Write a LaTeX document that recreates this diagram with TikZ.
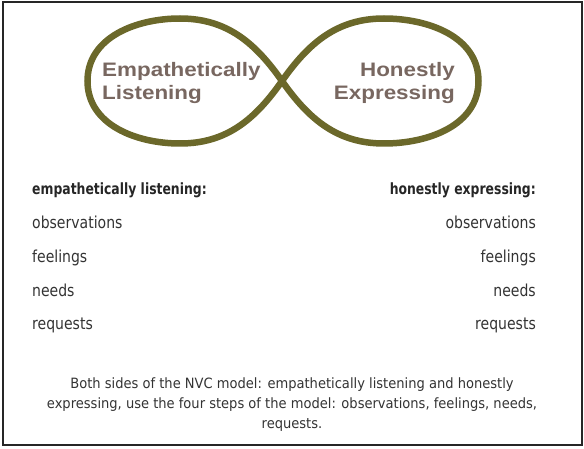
\documentclass[tikz,border=0pt]{standalone}
\usepackage{fontspec}
\usetikzlibrary{positioning}
\newfontfamily\loopfont[FakeStretch=1.15]{Liberation Sans}
\newfontfamily\listfont[FakeStretch=0.85]{DejaVu Sans}
\newfontfamily\headfont[FakeStretch=0.8]{DejaVu Sans}
\newfontfamily\captfont[FakeStretch=0.92]{DejaVu Sans}
\definecolor{loopc}{RGB}{107,104,42}
\definecolor{lblc}{RGB}{120,103,96}
\definecolor{txtc}{RGB}{51,51,51}
\tikzset{
    lbl/.style={font=\loopfont\bfseries\fontsize{19.5}{23}\selectfont, text=lblc, inner sep=0pt},
    item/.style={font=\listfont\fontsize{16.5}{18}\selectfont, text=txtc, inner sep=0pt, text height=11pt, text depth=3pt},
    head/.style={item, font=\headfont\bfseries\fontsize{15.5}{18}\selectfont, text=black!85},
    capt/.style={font=\captfont\fontsize{14.2}{20}\selectfont, text=txtc, inner sep=0pt, align=center}
}

\begin{document}
\begin{tikzpicture}[x=1pt, y=1pt]
                \useasboundingbox (0,0) rectangle (584,448);
                \draw [line width=1.3pt, black!85] (3,3) rectangle (582,446);

                \coordinate (c) at (282,367);
                \coordinate (lt) at (180,429.5);
                \coordinate (lw) at (87.5,367);
                \coordinate (lb) at (180,304.5);
                \coordinate (rt) at (384,429.5);
                \coordinate (re) at (478.5,367);
                \coordinate (rb) at (384,304.5);
                \draw [loopc, line width=6.5pt]
                    (c) to [out=125, in=0] (lt) to [out=180, in=90] (lw) to [out=270, in=180] (lb) to [out=0, in=235] (c)
                        to [out=55, in=180] (rt) to [out=0, in=90] (re) to [out=270, in=0] (rb) to [out=180, in=305] cycle;

                \node [lbl, anchor=base west] (e1) at (102,371) {Empathetically};
                \node [lbl, anchor=base west] (e2) at ([yshift=-23pt] e1.base west) {Listening};
                \node [lbl, anchor=base east] (h1) at (455,371) {Honestly};
                \node [lbl, anchor=base east] (h2) at ([yshift=-23pt] h1.base east) {Expressing};

                \node [head, anchor=base west] (l0) at (32,253) {empathetically listening:};
                \node [item, below=19.3pt of l0.south west, anchor=north west] (l1) {observations};
                \node [item, below=19.3pt of l1.south west, anchor=north west] (l2) {feelings};
                \node [item, below=19.3pt of l2.south west, anchor=north west] (l3) {needs};
                \node [item, below=19.3pt of l3.south west, anchor=north west] (l4) {requests};

                \node [head, anchor=base east] (r0) at (536,253) {honestly expressing:};
                \node [item, below=19.3pt of r0.south east, anchor=north east] (r1) {observations};
                \node [item, below=19.3pt of r1.south east, anchor=north east] (r2) {feelings};
                \node [item, below=19.3pt of r2.south east, anchor=north east] (r3) {needs};
                \node [item, below=19.3pt of r3.south east, anchor=north east] (r4) {requests};

                \node [capt] (cap) at (292,43.5) {Both sides of the NVC model: empathetically listening and honestly\\
                    expressing, use the four steps of the model: observations, feelings, needs,\\
                    requests.};
\end{tikzpicture}
\end{document}
